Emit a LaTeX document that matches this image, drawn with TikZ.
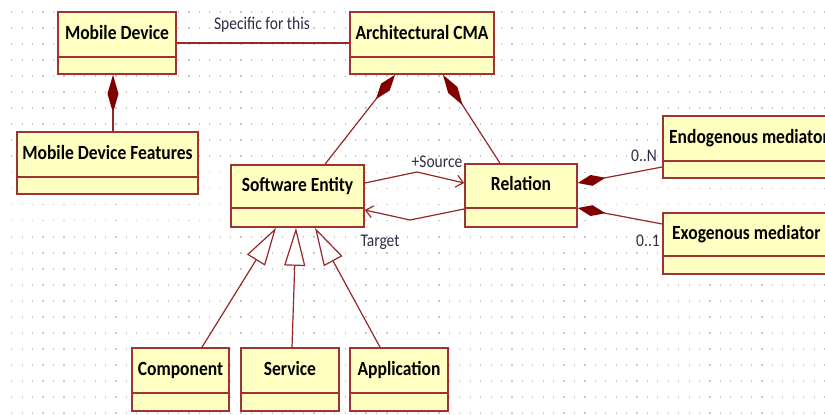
\documentclass[tikz,border=0pt]{standalone}
\usepackage{fontspec}
\setmainfont{Carlito}
\usetikzlibrary{arrows.meta,calc}
\definecolor{boxfill}{RGB}{255,255,194}
\definecolor{boxline}{RGB}{160,50,50}
\definecolor{connline}{RGB}{150,40,40}
\definecolor{diamondc}{RGB}{128,0,0}
\definecolor{labelc}{RGB}{45,45,70}
\definecolor{dotc}{RGB}{200,200,200}
\tikzset{
  cls/.style={draw=boxline, fill=boxfill, line width=1.6pt, inner sep=0pt},
  divider/.style={draw=boxline, line width=1.6pt},
  ttl/.style={font=\bfseries\fontsize{17.5}{17.5}\selectfont, inner sep=0pt, yscale=1.15, text height=11pt, text depth=3pt},
  lbl/.style={font=\fontsize{15.5}{15.5}\selectfont, text=labelc, inner sep=0pt, yscale=1.15, text height=10pt, text depth=3pt},
  conn/.style={draw=connline, line width=1.2pt},
  comp/.style={conn, {Diamond[length=#1, width=11pt, fill=diamondc, color=diamondc]}-},
  gen/.style={conn, -{Triangle[open, length=38pt, width=21pt, fill=white]}},
  nav/.style={conn, -{Straight Barb[length=7pt, width=12pt]}},
}
\newcommand{\umlclass}[7]{%
  \node[cls, minimum width=#4-#2, minimum height=#5-#3] (#1) at ({(#2+#4)/2},{(#3+#5)/2}) {};
  \draw[divider] (#1.west |- 0,#6) -- (#1.east |- 0,#6);
  \node[ttl] (#1-t) at ({(#2+#4)/2},{(#3+#6)/2}) {#7};
}
\begin{document}
\begin{tikzpicture}[x=1pt,y=-1pt]
\useasboundingbox (0,0) rectangle (825,415);
\clip (0,0) rectangle (825,415);
\fill[white] (0,0) rectangle (825,415);
% dotted grid
\foreach \i in {0,...,78}{
  \foreach \j in {0,...,25}{
    \fill[dotc] ({11.2+\i*10.42},{11+\j*16.05}) rectangle +(1.2,1.8);
  }
}
% classes
\umlclass{md}{58}{12}{176}{74}{57}{Mobile Device}
\umlclass{cma}{350}{12}{494}{74}{57}{Architectural CMA}
\umlclass{mdf}{17}{132}{198}{194}{177}{Mobile Device Features}
\umlclass{se}{231}{165}{364}{227}{208}{Software Entity}
\umlclass{rel}{465}{164}{577}{227}{208}{Relation}
\umlclass{comp}{132}{348}{229}{411}{393}{Component}
\umlclass{serv}{241}{348}{339}{411}{393}{Service}
\umlclass{app}{350}{348}{448}{411}{393}{Application}
% mediators (cut by the picture edge)
\node[cls, minimum width=180, minimum height=62] (endo) at (753,147) {};
\draw[divider] (endo.west |- 0,161) -- (endo.east |- 0,161);
\node[ttl, anchor=west] (endo-t) at (669,138.5) {Endogenous mediator};
\node[cls, minimum width=180, minimum height=61] (exo) at (753,243.5) {};
\draw[divider] (exo.west |- 0,256) -- (exo.east |- 0,256);
\node[ttl, anchor=west] (exo-t) at (672,234.5) {Exogenous mediator};
% connectors
\draw[conn] (md.east) -- (cma.west);
\node[lbl] (spec) at (262,25) {Specific for this};
\draw[comp=38pt] (md.south -| 113,0) -- (mdf.north -| 113,0);
\draw[comp=31pt] (cma.south -| 395,0) -- (se.north -| 325,0);
\draw[comp=36pt] (cma.south -| 443,0) -- (rel.north -| 500,0);
\draw[comp=28pt] (rel.east |- 0,183) -- (endo.west |- 0,167);
\draw[comp=28pt] (rel.east |- 0,208) -- (exo.west |- 0,224);
\node[lbl] (n0N) at (644,157) {0..N};
\node[lbl] (n01) at (648,242) {0..1};
\coordinate (sb) at (417,172);
\coordinate (tb) at (410,220);
\draw[nav] (se.east |- 0,183) -- (sb) -- (rel.west |- 0,183);
\draw[nav] (rel.west |- 0,209) -- (tb) -- (se.east |- 0,210);
\node[lbl] (src) at (437,163) {+Source};
\node[lbl] (tgt) at (380,242) {Target};
\draw[gen] (comp.north -| 202,0) -- (se.south -| 276,0);
\draw[gen] (serv.north -| 292,0) -- (se.south -| 296,0);
\draw[gen] (app.north -| 380,0) -- (se.south -| 315,0);
\end{tikzpicture}
\end{document}
